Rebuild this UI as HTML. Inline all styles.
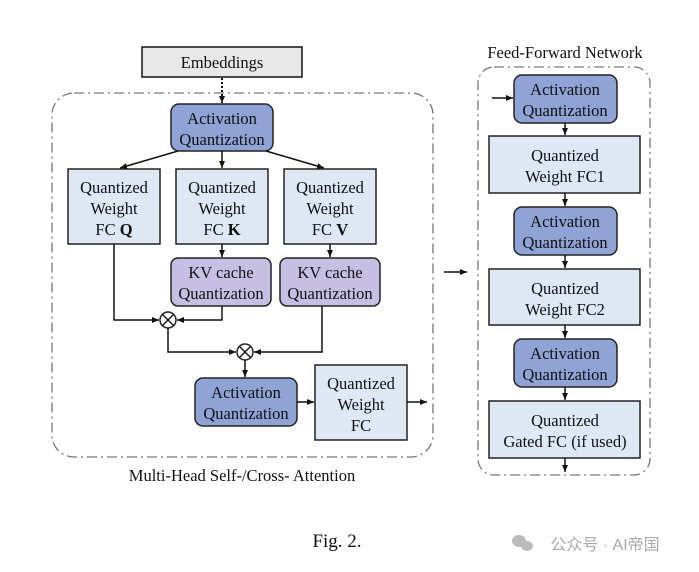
<!DOCTYPE html>
<html><head><meta charset="utf-8"><style>
html,body{margin:0;padding:0;background:#fff;}
svg{display:block;}
text{font-family:"Liberation Serif",serif;font-size:16.5px;fill:#111;text-anchor:middle;}
</style></head><body>
<svg width="699" height="572" viewBox="0 0 699 572" xmlns="http://www.w3.org/2000/svg">
<defs>
<marker id="a" markerWidth="8" markerHeight="8" refX="7" refY="4" orient="auto" markerUnits="userSpaceOnUse"><path d="M0,1 L7,4 L0,7 z" fill="#111"/></marker>
</defs>
<g fill="none" stroke="#777" stroke-width="1.3" stroke-dasharray="10,4,2,4">
<rect x="52" y="93" width="381" height="364" rx="22"/>
<rect x="478" y="67" width="172" height="408" rx="16"/>
</g>
<rect x="142" y="47" width="160" height="30" fill="#e8e8e8" stroke="#111" stroke-width="1.5"/>
<text x="222" y="68">Embeddings</text>
<line x1="222" y1="78" x2="222" y2="103" stroke="#111" stroke-width="2" stroke-dasharray="2,2" marker-end="url(#a)"/>
<g stroke="#222" stroke-width="1.5">
<rect x="171" y="104" width="102" height="47" rx="8" fill="#8fa3d6"/>
<rect x="68" y="169" width="92" height="75" fill="#dde8f4"/>
<rect x="176" y="169" width="92" height="75" fill="#dde8f4"/>
<rect x="284" y="169" width="92" height="75" fill="#dde8f4"/>
<rect x="171" y="258" width="100" height="48" rx="7" fill="#c7bfe3"/>
<rect x="280" y="258" width="100" height="48" rx="7" fill="#c7bfe3"/>
<rect x="195" y="378" width="102" height="48" rx="8" fill="#8fa3d6"/>
<rect x="315" y="365" width="92" height="75" fill="#dde8f4"/>
<circle cx="168" cy="320" r="8" fill="#fff"/>
<circle cx="245" cy="352" r="8" fill="#fff"/>
<rect x="514" y="75" width="103" height="48" rx="8" fill="#8fa3d6"/>
<rect x="489" y="136" width="151" height="57" fill="#dde8f4"/>
<rect x="514" y="207" width="103" height="48" rx="8" fill="#8fa3d6"/>
<rect x="489" y="269" width="151" height="56" fill="#dde8f4"/>
<rect x="514" y="339" width="103" height="48" rx="8" fill="#8fa3d6"/>
<rect x="489" y="401" width="151" height="57" fill="#dde8f4"/>
</g>
<g stroke="#111" stroke-width="1.3">
<line x1="162.5" y1="314.5" x2="173.5" y2="325.5"/><line x1="173.5" y1="314.5" x2="162.5" y2="325.5"/>
<line x1="239.5" y1="346.5" x2="250.5" y2="357.5"/><line x1="250.5" y1="346.5" x2="239.5" y2="357.5"/>
</g>
<g stroke="#111" stroke-width="1.5" fill="none" marker-end="url(#a)">
<line x1="178" y1="151" x2="120" y2="168"/>
<line x1="222" y1="151" x2="222" y2="168"/>
<line x1="266" y1="151" x2="324" y2="168"/>
<line x1="222" y1="244" x2="222" y2="257"/>
<line x1="330" y1="244" x2="330" y2="257"/>
<polyline points="114,244 114,320 159,320"/>
<polyline points="222,306 222,320 177,320"/>
<polyline points="168,328 168,352 236,352"/>
<polyline points="322,306 322,352 254,352"/>
<line x1="245" y1="360" x2="245" y2="377"/>
<line x1="297" y1="402" x2="314" y2="402"/>
<line x1="407" y1="402" x2="427" y2="402"/>
<line x1="444" y1="272" x2="467" y2="272"/>
<line x1="492" y1="98" x2="513" y2="98"/>
<line x1="565" y1="123" x2="565" y2="135"/>
<line x1="565" y1="193" x2="565" y2="206"/>
<line x1="565" y1="255" x2="565" y2="268"/>
<line x1="565" y1="325" x2="565" y2="338"/>
<line x1="565" y1="387" x2="565" y2="400"/>
<line x1="565" y1="458" x2="565" y2="472"/>
</g>
<text x="222" y="124">Activation</text><text x="222" y="145">Quantization</text>
<text x="114" y="193">Quantized</text><text x="114" y="214">Weight</text><text x="114" y="235">FC <tspan font-weight="bold">Q</tspan></text>
<text x="222" y="193">Quantized</text><text x="222" y="214">Weight</text><text x="222" y="235">FC <tspan font-weight="bold">K</tspan></text>
<text x="330" y="193">Quantized</text><text x="330" y="214">Weight</text><text x="330" y="235">FC <tspan font-weight="bold">V</tspan></text>
<text x="221" y="278">KV cache</text><text x="221" y="299">Quantization</text>
<text x="330" y="278">KV cache</text><text x="330" y="299">Quantization</text>
<text x="246" y="398">Activation</text><text x="246" y="419">Quantization</text>
<text x="361" y="389">Quantized</text><text x="361" y="410">Weight</text><text x="361" y="431">FC</text>
<text x="242" y="481">Multi-Head Self-/Cross- Attention</text>
<text x="565" y="58">Feed-Forward Network</text>
<text x="565" y="95">Activation</text><text x="565" y="116">Quantization</text>
<text x="565" y="161">Quantized</text><text x="565" y="182">Weight FC1</text>
<text x="565" y="227">Activation</text><text x="565" y="248">Quantization</text>
<text x="565" y="294">Quantized</text><text x="565" y="315">Weight FC2</text>
<text x="565" y="359">Activation</text><text x="565" y="380">Quantization</text>
<text x="565" y="426">Quantized</text><text x="565" y="447">Gated FC (if used)</text>
<text x="337" y="547" style="font-size:19px">Fig. 2.</text>
<g fill="#bbb"><ellipse cx="519" cy="541" rx="7" ry="6"/><ellipse cx="527" cy="546" rx="6" ry="5"/></g>
<text x="605" y="550" style="font-family:'Liberation Sans','Noto Sans CJK SC',sans-serif;font-size:16px;fill:#aaa">公众号 · AI帝国</text>
</svg>
</body></html>
